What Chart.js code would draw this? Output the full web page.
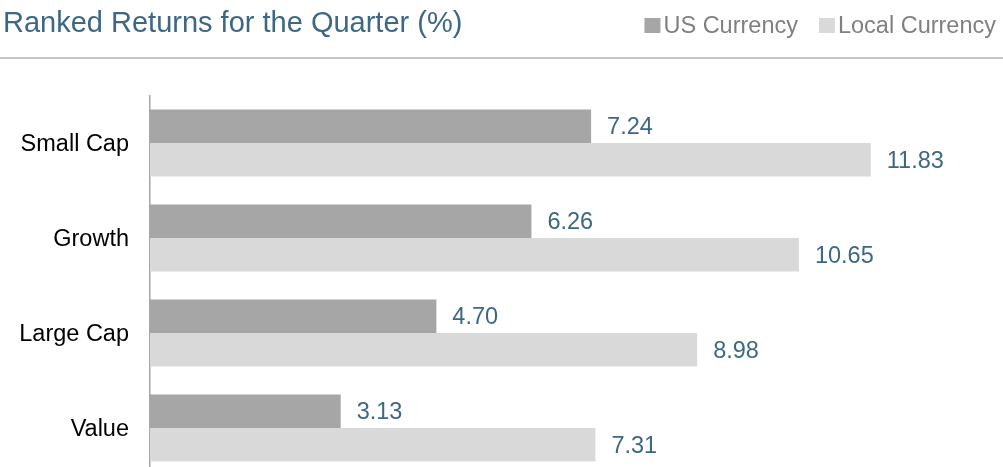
<!DOCTYPE html>
<html>
<head>
<meta charset="utf-8">
<script src="https://cdn.jsdelivr.net/npm/chart.js@4.4.1/dist/chart.umd.min.js"></script>
<style>
  html, body { margin: 0; padding: 0; background: #fff; overflow: hidden; }
  canvas { display: block; }
</style>
</head>
<body>
<canvas id="chartReturns" width="1003" height="480" style="width:1003px;height:480px"></canvas>
<script>
// ── datos ──
const categories = ['Small Cap', 'Growth', 'Large Cap', 'Value'];
const usCurrency = [7.24, 6.26, 4.70, 3.13];
const localCurrency = [11.83, 10.65, 8.98, 7.31];
const seriesNames = ['US Currency', 'Local Currency'];
const seriesColors = ['#a6a6a6', '#d9d9d9'];

const FONT = '"Liberation Sans", Arial, sans-serif';
const BLUE = '#3d6884';

// title, legend and rule on the canvas
const headerPlugin = {
    id: 'header',
    afterDraw(chart) {
        const ctx = chart.ctx;
        ctx.save();
        ctx.fillStyle = BLUE;
        ctx.font = '29px ' + FONT;
        ctx.textBaseline = 'alphabetic';
        ctx.textAlign = 'left';
        ctx.fillText('Ranked Returns for the Quarter (%)', 3, 32);

        // legend, right aligned
        ctx.font = '23.5px ' + FONT;
        let x = 996;
        for (let i = seriesNames.length - 1; i >= 0; i--) {
            const w = ctx.measureText(seriesNames[i]).width;
            x -= w;
            ctx.fillStyle = '#808080';
            ctx.fillText(seriesNames[i], x, 33);
            ctx.fillStyle = seriesColors[i];
            ctx.fillRect(x - 19, 18, 16, 15);
            x -= 19 + 21;
        }

        ctx.strokeStyle = '#b0b0b0';
        ctx.lineWidth = 1.5;
        ctx.beginPath();
        ctx.moveTo(0, 58);
        ctx.lineTo(1003, 58);
        ctx.stroke();
        ctx.restore();
    }
};

// value labels at the end of each bar
const valueLabels = {
    id: 'valueLabels',
    afterDatasetsDraw(chart) {
        const ctx = chart.ctx;
        ctx.save();
        ctx.fillStyle = BLUE;
        ctx.font = '23.5px ' + FONT;
        ctx.textAlign = 'left';
        ctx.textBaseline = 'middle';
        chart.data.datasets.forEach((ds, di) => {
            chart.getDatasetMeta(di).data.forEach((bar, i) => {
                ctx.fillText(ds.data[i].toFixed(2), bar.x + 16, bar.y + 1.5);
            });
        });
        ctx.restore();
    }
};

new Chart(document.getElementById('chartReturns'), {
    type: 'bar',
    data: {
        labels: categories,
        datasets: [
            { label: seriesNames[0], data: usCurrency, backgroundColor: seriesColors[0] },
            { label: seriesNames[1], data: localCurrency, backgroundColor: seriesColors[1] }
        ]
    },
    options: {
        indexAxis: 'y',
        responsive: false,
        animation: false,
        categoryPercentage: 0.705,
        barPercentage: 1.0,
        layout: { padding: { top: 95.5, bottom: 4.5, left: 0, right: 0 } },
        plugins: {
            legend: { display: false },
            tooltip: { enabled: false }
        },
        scales: {
            x: { display: false, min: 0, max: 14 },
            y: {
                grid: { display: false, drawTicks: false },
                border: { display: true, color: '#a6a6a6', width: 1.5 },
                ticks: { color: '#000', font: { family: FONT, size: 23.5 }, padding: 21, labelOffset: 2 },
                afterFit(scale) {
                    scale.width = 150;
                    scale.paddingTop = 0;
                    scale.paddingBottom = 0;
                }
            }
        }
    },
    plugins: [headerPlugin, valueLabels]
});
</script>
</body>
</html>
